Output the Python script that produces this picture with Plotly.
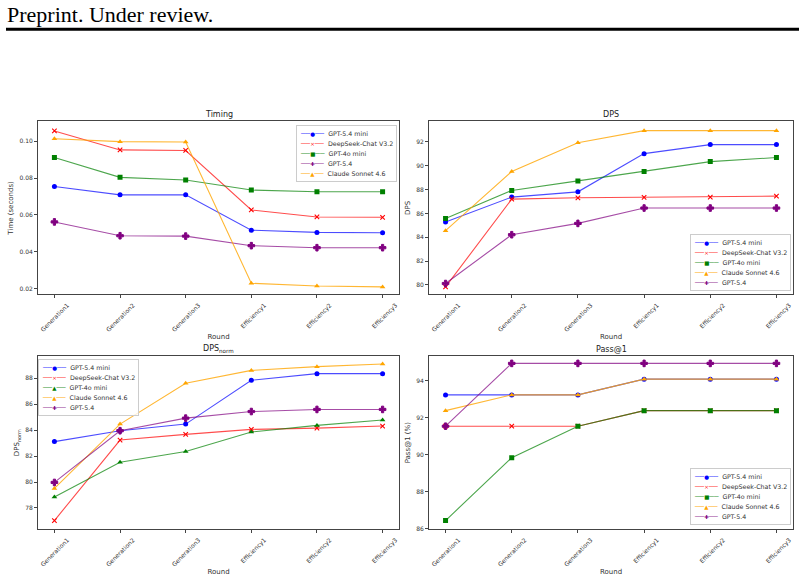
import plotly.graph_objects as go

W, H = 804, 581

rounds = ["Generation1", "Generation2", "Generation3", "Efficiency1", "Efficiency2", "Efficiency3"]

# Timing (seconds)
timing_gpt54mini = [0.0754, 0.0709, 0.0709, 0.0517, 0.0505, 0.0503]
timing_deepseek = [0.1056, 0.0953, 0.0950, 0.0627, 0.0589, 0.0587]
timing_gpt4omini = [0.0912, 0.0804, 0.0790, 0.0735, 0.0726, 0.0726]
timing_claude = [0.1014, 0.0998, 0.0996, 0.0229, 0.0214, 0.0209]
timing_gpt54 = [0.0562, 0.0487, 0.0485, 0.0433, 0.0422, 0.0422]

# DPS
dps_gpt54mini = [85.27, 87.37, 87.81, 91.02, 91.78, 91.78]
dps_deepseek = [79.83, 87.20, 87.31, 87.34, 87.37, 87.45]
dps_gpt4omini = [85.58, 87.93, 88.73, 89.52, 90.35, 90.69]
dps_claude = [84.55, 89.52, 91.94, 92.95, 92.95, 92.95]
dps_gpt54 = [80.11, 84.21, 85.16, 86.45, 86.45, 86.45]

# DPS_norm
dpsn_gpt54mini = [83.12, 83.96, 84.47, 87.85, 88.36, 88.36]
dpsn_deepseek = [77.03, 83.24, 83.68, 84.06, 84.16, 84.32]
dpsn_gpt4omini = [78.84, 81.53, 82.35, 83.86, 84.37, 84.78]
dpsn_claude = [79.51, 84.47, 87.62, 88.61, 88.90, 89.10]
dpsn_gpt54 = [79.97, 83.96, 84.93, 85.44, 85.60, 85.60]

# Pass@1 (%)
pass_gpt54mini = [93.22, 93.22, 93.22, 94.07, 94.07, 94.07]
pass_deepseek = [91.53, 91.53, 91.53, 92.37, 92.37, 92.37]
pass_gpt4omini = [86.44, 89.83, 91.53, 92.37, 92.37, 92.37]
pass_claude = [92.37, 93.22, 93.22, 94.07, 94.07, 94.07]
pass_gpt54 = [91.53, 94.92, 94.92, 94.92, 94.92, 94.92]

FONT = "DejaVu Sans"
TXT = "#333333"

style = {
    "GPT-5.4 mini": dict(color="#0000ff", line="rgba(0,0,255,0.7)", symbol="circle", size=5),
    "DeepSeek-Chat V3.2": dict(color="#ff0000", line="rgba(255,0,0,0.7)", symbol="x-thin", size=4.5),
    "GPT-4o mini": dict(color="#008000", line="rgba(0,128,0,0.7)", symbol="square", size=5),
    "Claude Sonnet 4.6": dict(color="#ffa500", line="rgba(255,165,0,0.8)", symbol="triangle-up", size=5),
    "GPT-5.4": dict(color="#800080", line="rgba(128,0,128,0.7)", symbol="cross", size=5.5),
}
glyph = {"circle": "●", "x-thin": "×", "square": "■", "triangle-up": "▲", "cross": "✚"}

fig = go.Figure()


def add(ax, name, ys, symbol=None):
    s = style[name]
    sym = symbol or s["symbol"]
    mk = dict(symbol=sym, size=s["size"], color=s["color"])
    if sym == "x-thin":
        mk["line"] = dict(width=1.1, color=s["color"])
    elif sym == "cross":
        mk["line"] = dict(width=1, color=s["color"])
    else:
        mk["line"] = dict(width=0)
    fig.add_trace(go.Scatter(
        x=rounds, y=ys, name=name, mode="lines+markers",
        line=dict(color=s["line"], width=1.1), marker=mk,
        xaxis="x" + ax, yaxis="y" + ax, showlegend=False,
    ))
    return (name, sym)


legends = {}

# Panel 1: Timing
legends["1"] = [
    add("", "GPT-5.4 mini", timing_gpt54mini),
    add("", "DeepSeek-Chat V3.2", timing_deepseek),
    add("", "GPT-4o mini", timing_gpt4omini),
    add("", "GPT-5.4", timing_gpt54),
    add("", "Claude Sonnet 4.6", timing_claude),
]
# Panel 2: DPS
legends["2"] = [
    add("2", "GPT-5.4 mini", dps_gpt54mini),
    add("2", "DeepSeek-Chat V3.2", dps_deepseek),
    add("2", "GPT-4o mini", dps_gpt4omini),
    add("2", "Claude Sonnet 4.6", dps_claude),
    add("2", "GPT-5.4", dps_gpt54),
]
# Panel 3: DPS_norm
legends["3"] = [
    add("3", "GPT-5.4 mini", dpsn_gpt54mini),
    add("3", "DeepSeek-Chat V3.2", dpsn_deepseek),
    add("3", "GPT-4o mini", dpsn_gpt4omini, symbol="triangle-up"),
    add("3", "Claude Sonnet 4.6", dpsn_claude),
    add("3", "GPT-5.4", dpsn_gpt54),
]
# Panel 4: Pass@1
legends["4"] = [
    add("4", "GPT-5.4 mini", pass_gpt54mini),
    add("4", "DeepSeek-Chat V3.2", pass_deepseek),
    add("4", "GPT-4o mini", pass_gpt4omini),
    add("4", "Claude Sonnet 4.6", pass_claude),
    add("4", "GPT-5.4", pass_gpt54),
]


def px_x(a, b):
    return [a / W, b / W]


def px_y(top, bottom):
    return [1 - bottom / H, 1 - top / H]


def xax(domain, anchor):
    return dict(
        domain=domain, anchor=anchor, range=[-0.25, 5.25],
        showline=True, mirror=True, linecolor="#444", linewidth=1,
        ticks="outside", ticklen=3, tickcolor="#444", tickwidth=0.8,
        tickangle=-45, ticklabelshift=13, ticklabelstandoff=1,
        tickfont=dict(family=FONT, size=6, color=TXT),
        showgrid=False, zeroline=False,
        title=dict(text="Round", font=dict(family=FONT, size=7, color=TXT), standoff=2),
    )


def yax(domain, anchor, rng, dtick, fmt, title):
    return dict(
        domain=domain, anchor=anchor, range=rng, dtick=dtick, tickformat=fmt,
        showline=True, mirror=True, linecolor="#444", linewidth=1,
        ticks="outside", ticklen=3, tickcolor="#444", tickwidth=0.8,
        tickfont=dict(family=FONT, size=6, color=TXT),
        showgrid=False, zeroline=False,
        title=dict(text=title, font=dict(family=FONT, size=7, color=TXT), standoff=4),
    )


top_row = px_y(122, 296)
bot_row = px_y(358, 532)
left_col = px_x(38, 399)
right_col = px_x(429, 793)

fig.update_layout(
    width=W, height=H,
    margin=dict(l=0, r=0, t=0, b=0),
    paper_bgcolor="white", plot_bgcolor="white",
    font=dict(family=FONT, color=TXT),
    showlegend=False,
    xaxis=xax(left_col, "y"),
    yaxis=yax(top_row, "x", [0.0168, 0.1108], 0.02, ".2f", "Time (seconds)"),
    xaxis2=xax(right_col, "y2"),
    yaxis2=yax(top_row, "x2", [79.19, 93.73], 2, "d", "DPS"),
    xaxis3=xax(left_col, "y3"),
    yaxis3=yax(bot_row, "x3", [76.36, 89.71], 2, "d", "DPS<sub>norm</sub>"),
    xaxis4=xax(right_col, "y4"),
    yaxis4=yax(bot_row, "x4", [85.97, 95.31], 2, "d", "Pass@1 (%)"),
)

titles = [("Timing", left_col, top_row), ("DPS", right_col, top_row),
          ("DPS<sub>norm</sub>", left_col, bot_row), ("Pass@1", right_col, bot_row)]
for t, xc, yr in titles:
    fig.add_annotation(text=t, xref="paper", yref="paper", x=(xc[0] + xc[1]) / 2, y=yr[1],
                       xanchor="center", yanchor="bottom", yshift=0, showarrow=False,
                       font=dict(family=FONT, size=8, color="#222"))


def legend_text(entries):
    rows = []
    for name, sym in entries:
        s = style[name]
        rows.append(
            f"<span style='color:{s['line']}'>──</span>"
            f"<span style='color:{s['color']};font-size:5.5px'>{glyph[sym]}</span>"
            f"<span style='color:{s['line']}'>──</span>"
            f"<span style='font-size:6.3px'>  {name}</span>"
        )
    return "<br>".join(rows)


leg_pos = {
    "1": dict(x=397 / W, y=1 - 126 / H, xanchor="right", yanchor="top"),
    "2": dict(x=791 / W, y=1 - 293 / H, xanchor="right", yanchor="bottom"),
    "3": dict(x=38 / W, y=1 - 361 / H, xanchor="left", yanchor="top"),
    "4": dict(x=791 / W, y=1 - 528 / H, xanchor="right", yanchor="bottom"),
}
for key, entries in legends.items():
    fig.add_annotation(
        text=legend_text(entries), xref="paper", yref="paper", showarrow=False,
        align="left", bgcolor="rgba(255,255,255,0.8)", bordercolor="#cccccc",
        borderwidth=1, borderpad=3,
        font=dict(family=FONT, size=7.6, color=TXT), **leg_pos[key],
    )

# Page header
fig.add_annotation(text="Preprint. Under review.", xref="paper", yref="paper",
                   x=5 / W, y=1 - 0 / H, xanchor="left", yanchor="top", showarrow=False,
                   font=dict(family="Liberation Serif", size=22, color="black"))
fig.add_shape(type="line", xref="paper", yref="paper", x0=6 / W, x1=799 / W,
              y0=1 - 29.5 / H, y1=1 - 29.5 / H, line=dict(color="black", width=3))

fig.write_html("out.html")
